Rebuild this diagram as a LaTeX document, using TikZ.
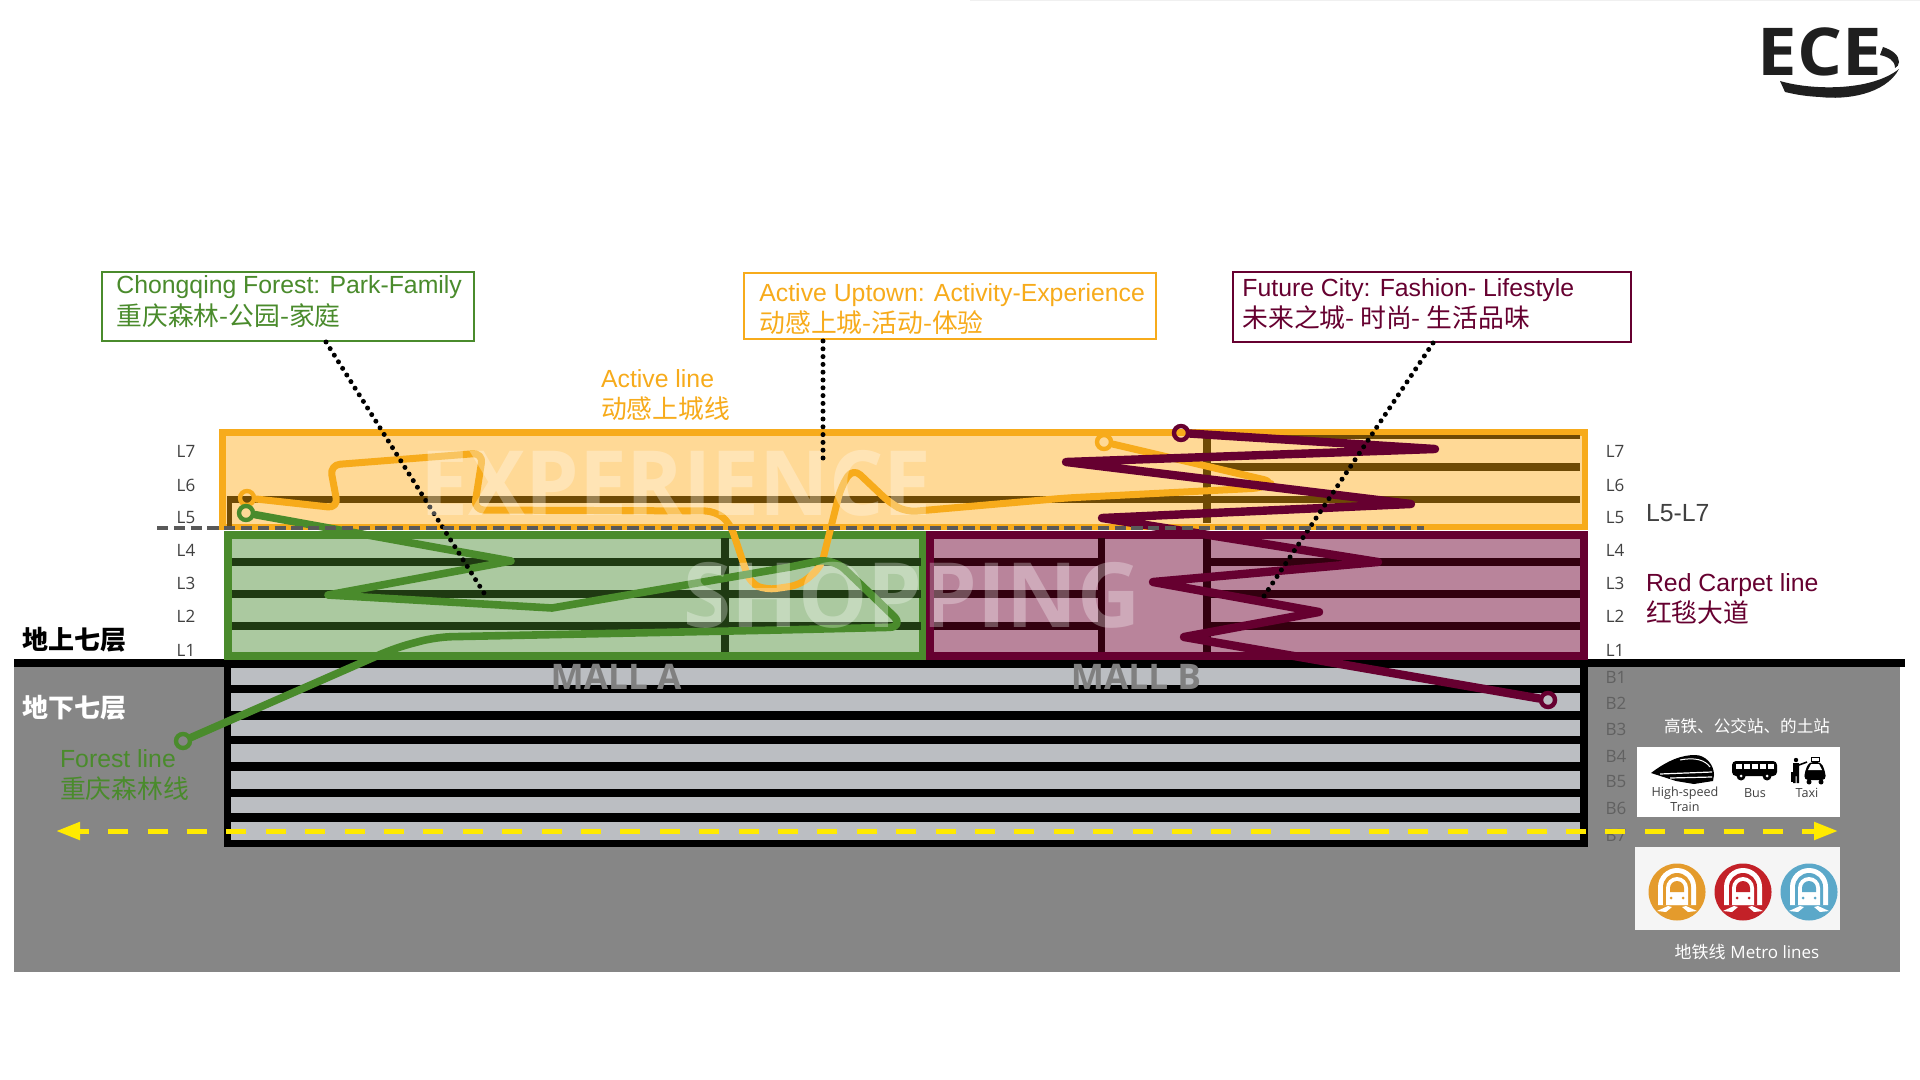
\documentclass[tikz,border=0pt]{standalone}
\usepackage{fontspec}
\setmainfont{Liberation Sans}
\newfontfamily\cjk{Noto Sans CJK SC}
\newfontfamily\opensans{Open Sans}
\newcommand{\cjkline}{\cjk\fontsize{12.9}{15.9}\selectfont}
\usetikzlibrary{arrows.meta}
\definecolor{forest}{HTML}{4A8B2C}
\definecolor{forestfill}{HTML}{ABC9A0}
\definecolor{forestbar}{HTML}{1F3A12}
\definecolor{active}{HTML}{F7AB1B}
\definecolor{activefill}{HTML}{FFD996}
\definecolor{activebar}{HTML}{6E4A05}
\definecolor{carpet}{HTML}{660030}
\definecolor{carpetfill}{HTML}{B9849B}
\definecolor{carpetbar}{HTML}{33000F}
\definecolor{ground}{HTML}{868686}
\definecolor{basement}{HTML}{BBBEC2}
\definecolor{markline}{HTML}{FFEA00}
\definecolor{metroA}{HTML}{E49B2C}
\definecolor{metroB}{HTML}{C32128}
\definecolor{metroC}{HTML}{5BA8C9}
\tikzset{
  notebox/.style={draw=#1,line width=1pt,fill=white,anchor=north west,inner sep=0pt,outer sep=0pt},
  notetext/.style={text=#1,align=left,anchor=west,inner sep=0pt,font=\fontsize{12.4}{15.9}\selectfont},
  ring/.style={circle,draw=#1,fill=none,line width=2.2pt,minimum size=7pt,inner sep=0pt},
  leader/.style={line width=2.5pt,line cap=round,dash pattern=on 0pt off 3.9pt},
  routeline/.style={line width=#1,line join=round,line cap=round},
  floorlabel/.style={font=\opensans\fontsize{8.5}{10}\selectfont,text=#1},
  watermark/.style={text=white,text opacity=.3,font=\opensans\bfseries\fontsize{45}{45}\selectfont,anchor=center},
  malllabel/.style={text=black!50,font=\opensans\bfseries\fontsize{17.6}{18}\selectfont},
  linename/.style={font=\fontsize{12.4}{15.9}\selectfont,align=left,anchor=west,text=#1},
  smalllabel/.style={font=\opensans\fontsize{6.3}{7}\selectfont,text=black!75,inner sep=0pt},
}
\newcommand{\metroicon}[3]{
\begin{scope}[shift={(#1,#2)}]
\fill[#3] (0,0) circle (28.5);
\fill[white] (-19,13) -- (-19,-5) arc[start angle=180,end angle=360,radius=19] -- (19,13) -- cycle;
\fill[#3] (-14,13) -- (-14,-5) arc[start angle=180,end angle=360,radius=14] -- (14,13) -- cycle;
\fill[white] (-11,13) -- (-11,-4) arc[start angle=180,end angle=360,radius=11] -- (11,13) -- cycle;
\fill[#3] (-7,0) -- (-7,-4) arc[start angle=180,end angle=360,radius=7] -- (7,0) -- cycle;
\fill[#3] (-6,6) circle (1.5) (6,6) circle (1.5);
\fill[white] (-20,19) -- (-9,14) -- (-5,15) -- (-11,20) -- cycle;
\fill[white] (20,19) -- (9,14) -- (5,15) -- (11,20) -- cycle;
\end{scope}
}
\begin{document}
\begin{tikzpicture}[x=0.5pt,y=-0.5pt]
\useasboundingbox (0,0) rectangle (1920,1080);
\fill[white] (0,0) rectangle (1920,1080);
\fill[black!6] (970,0) rectangle (1920,1.5);
% ground and basement
\fill[ground] (14,667) rectangle (1900,972);
\fill[black] (224,660) rectangle (1588,847);
\fill[black] (14,659) rectangle (1905,667);
\foreach \ya/\yb in {668/685,693/711,720/736,744/762,771/789,797/813,822/840}
  \fill[basement] (231,\ya) rectangle (1580,\yb);
% experience block
\draw[active,fill=activefill,line width=3.2pt] (222.5,432.5) rectangle (1585,527);
\fill[activebar] (227,495.5) rectangle (1580,502.5);
\fill[activebar] (227,496) rectangle (232,527);
\fill[activebar] (1203,435) rectangle (1211,523);
\fill[activebar] (1211,435) rectangle (1580,439);
\fill[activebar] (1211,463) rectangle (1580,471);
% mall A
\draw[forest,fill=forestfill,line width=4pt] (228,535) rectangle (923,656);
\foreach \ya/\yb in {557.5/565.5,589.5/597.5,621.5/629.5}
  \fill[forestbar] (232,\ya) rectangle (921,\yb);
\fill[forestbar] (721,538) rectangle (729,652);
% mall B
\draw[carpet,fill=carpetfill,line width=4pt] (930,535) rectangle (1584,656);
\foreach \ya/\yb in {557.5/565.5,589.5/597.5,621.5/629.5}{
  \fill[carpetbar] (934,\ya) rectangle (1098,\yb);
  \fill[carpetbar] (1211,\ya) rectangle (1580,\yb);
}
\fill[carpetbar] (1098,538) rectangle (1105,652);
\fill[carpetbar] (1203,538) rectangle (1211,652);
% notes
\node[notebox=forest,minimum height=34.5pt,minimum width=186pt] (forestNote) at (102,272) {};
\node[notetext=forest] (forestText) at (116,301.5) {Chongqing Forest: Park-Family\\{\cjkline 重庆森林-公园-家庭}};
\node[notebox=active,minimum height=33pt,minimum width=206pt] (activeNote) at (744,273) {};
\node[notetext=active] (activeText) at (759,309) {Active Uptown: Activity-Experience\\{\cjkline 动感上城-活动-体验}};
\node[notebox=carpet,minimum height=35pt,minimum width=199pt] (carpetNote) at (1233,272) {};
\node[notetext=carpet] (carpetText) at (1242,304) {Future City: Fashion- Lifestyle\\{\cjkline 未来之城- 时尚- 生活品味}};
\coordinate (forestTop) at (326,342);
\coordinate (forestDot) at (484,593);
\coordinate (activeTop) at (823,341);
\coordinate (activeDot) at (823,462);
\coordinate (carpetTop) at (1433,343);
\coordinate (carpetDot) at (1260,602);
% routes
\node[ring=active] (activeStart) at (247,498) {};
\node[ring=active] (activeEnd) at (1104,442) {};
\draw[active,routeline=3.5pt,rounded corners=5pt] (activeStart) -- (338,508) -- (330,465) -- (483,453) -- (474,510) -- (715,511) -- (730,523) -- (750,583) -- (766,590) -- (800,585) -- (821,567) -- (841,487) -- (853,468) -- (890,503) -- (906,512) -- (1066,498) -- (1262,488) -- (1274,482) -- (activeEnd);
\node[ring=forest] (forestStart) at (246,513) {};
\node[ring=forest] (forestEnd) at (183,741) {};
\draw[forest,routeline=3.8pt] (forestStart) -- (511,561) -- (328,595) -- (552,608) -- (790,567);
\draw[forest,routeline=3.8pt,rounded corners=8pt] (790,567) -- (833,558) -- (905,627) -- (780,630) -- (436,637) -- (395,648) -- (forestEnd);
\node[ring=carpet] (carpetStart) at (1181,433) {};
\node[ring=carpet] (carpetEnd) at (1548,700) {};
\draw[carpet,routeline=4.2pt] (carpetStart) -- (1435,449) -- (1066,462) -- (1411,504) -- (1102,518) -- (1378,562) -- (1153,582) -- (1319,612) -- (1184,637) -- (carpetEnd);
% dotted leaders
\draw[leader] (forestTop) -- (forestDot);
\draw[leader] (activeTop) -- (activeDot);
\draw[leader] (carpetTop) -- (carpetDot);
% level line
\draw[black!65,line width=2.4pt,dash pattern=on 5.6pt off 2.8pt] (157,528) -- (1424,528);
% big words
\node[watermark,xscale=.95] (experienceWord) at (676,483) {EXPERIENCE};
\node[watermark,xscale=.97] (shoppingWord) at (912,595) {SHOPPING};
\node[malllabel] (mallA) at (616,677) {MALL A};
\node[malllabel] (mallB) at (1136,677) {MALL B};
% floors
\foreach \lab/\yy in {L7/451,L6/485,L5/518,L4/550,L3/583,L2/616,L1/650}{
  \node[floorlabel=black!75] (left\lab) at (186,\yy) {\lab};
  \node[floorlabel=black!75] (right\lab) at (1615,\yy) {\lab};
}
\foreach \lab/\yy in {B1/677,B2/703,B3/729,B4/756,B5/782,B6/808,B7/835}
  \node[floorlabel=black!62] (right\lab) at (1616,\yy) {\lab};
% line names
\node[linename=active] (activeName) at (594,395) {Active line\\{\cjkline 动感上城线}};
\node[linename=forest] (forestName) at (53,775) {Forest line\\{\cjkline 重庆森林线}};
\node[linename=carpet] (carpetName) at (1639,599) {Red Carpet line\\{\cjkline 红毯大道}};
\node[linename=black!75] (levelName) at (1639,513) {L5-L7};
\node[font=\cjk\bfseries\fontsize{13}{15}\selectfont,anchor=west,inner sep=0pt] (aboveName) at (22,640) {地上七层};
\node[font=\cjk\bfseries\fontsize{13}{15}\selectfont,anchor=west,inner sep=0pt,text=white] (belowName) at (22,708) {地下七层};
% transport panels
\node[font=\cjk\fontsize{8.3}{10}\selectfont,text=white] (stationName) at (1747,726) {高铁、公交站、的土站};
\fill[white] (1637,747) rectangle (1840,817);
\fill[black!4] (1635,847) rectangle (1840,930);
\node[font=\fontsize{8.5}{10}\selectfont,text=white] (metroName) at (1747,952) {{\cjk 地铁线} {\opensans Metro lines}};
\metroicon{1677}{892}{metroA}
\metroicon{1743}{892}{metroB}
\metroicon{1809}{892}{metroC}
% train
\fill[black] (1651,773) .. controls (1668,760) and (1682,755) .. (1695,755) .. controls (1706,755) and (1714,765) .. (1714,775) -- (1713,781) -- (1694,784) -- (1676,781) -- cycle;
\draw[white,line width=.6pt] (1660,774) -- (1712,772) (1670,778) -- (1712,777);
\draw[white,line width=.5pt] (1680,760) .. controls (1695,757) and (1705,760) .. (1710,767);
% bus
\fill[black,rounded corners=2pt] (1732,761) rectangle (1777,776);
\foreach \wx in {1736,1744,1752,1760,1768}
  \fill[white] (\wx,764) rectangle (\wx+6,769);
\fill[black] (1741,776) circle (4.5) (1767,776) circle (4.5);
\fill[white] (1741,776) circle (1.5) (1767,776) circle (1.5);
% taxi
\fill[black] (1796,760) circle (2.2);
\fill[black] (1793,763) rectangle (1799,776) (1793,776) rectangle (1795.5,783) (1796.5,776) rectangle (1799,783);
\draw[black,line width=.8pt] (1799,765) -- (1807,762);
\fill[black] (1791,772) rectangle (1795,782);
\fill[black,rounded corners=2pt] (1805,771) -- (1809,762) -- (1821,762) -- (1825,771) -- (1826,780) -- (1804,780) -- cycle;
\fill[white] (1808,770) -- (1811,764) -- (1819,764) -- (1822,770) -- cycle;
\draw[black,line width=.5pt] (1811,761) rectangle (1819,757);
\fill[black] (1809,782) circle (2.5) (1821,782) circle (2.5);
\node[smalllabel] (trainLab) at (1685,793) {High-speed};
\node[smalllabel] (trainLabB) at (1685,807) {Train};
\node[smalllabel] (busLab) at (1755,793) {Bus};
\node[smalllabel] (taxiLab) at (1807,793) {Taxi};
% underground route
\coordinate (markLeft) at (56,831);
\coordinate (markRight) at (1838,831);
\draw[markline,line width=2.5pt,dash pattern=on 10pt off 9.7pt,dash phase=5pt,{Triangle[length=12pt,width=8.5pt]}-{Triangle[length=12pt,width=8.5pt]}] (markLeft) -- (markRight);
% logo
\node[font=\opensans\bfseries\fontsize{33}{33}\selectfont,text=black!88,anchor=center,inner sep=0pt,xscale=1.07] (eceLogo) at (1820,52) {ECE};
\fill[black!88] (1780,81) .. controls (1810,90) and (1870,92) .. (1899,69) .. controls (1885,95) and (1845,100) .. (1820,97) .. controls (1800,96) and (1790,93) .. (1785,92) -- cycle;
\fill[black!88] (1883,47) .. controls (1892,50) and (1899,55) .. (1899,62) .. controls (1899,65) and (1897,67) .. (1895,68) .. controls (1895,60) and (1888,57) .. (1880,55) -- cycle;
\end{tikzpicture}
\end{document}
